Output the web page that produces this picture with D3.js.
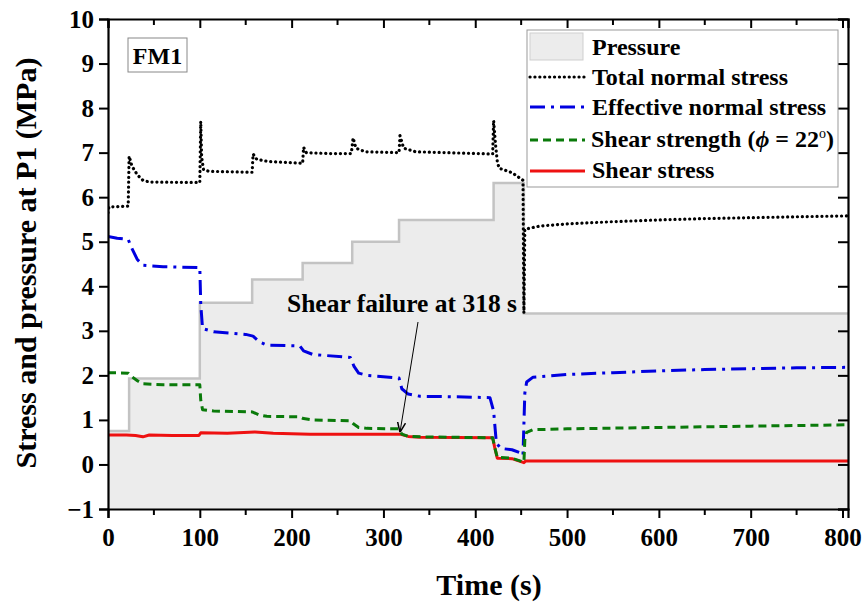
<!DOCTYPE html>
<html>
<head>
<meta charset="utf-8">
<script src="https://cdn.jsdelivr.net/npm/d3@7"></script>
<style>
  body { margin: 0; background: #fff; }
  svg text { font-family: "Liberation Serif", "Times New Roman", serif; font-weight: bold; fill: #000; }
</style>
</head>
<body>
<div id="chart"></div>
<script>
// step pressure at P1 (MPa), held until next step time
const pressureTimes  = [0, 23, 100, 157, 212, 266, 317, 420, 453, 806];
const pressureLevels = [0.75, 1.93, 3.63, 4.15, 4.52, 5.0, 5.49, 6.32, 3.39, 3.39];

// [time (s), MPa]
const totalNormal = [
  [0,5.65],[1,5.78],[22,5.8],[23,6.92],[26,6.7],[32,6.5],[38,6.38],[45,6.34],[100,6.33],
  [101,7.7],[102,6.9],[104,6.62],[110,6.58],[157,6.56],[158,6.97],[162,6.85],[175,6.8],
  [212,6.76],[213,7.12],[216,7.0],[240,6.98],[265,6.98],[267,7.33],[270,7.1],[280,7.02],
  [317,7.0],[318,7.38],[322,7.1],[335,7.02],[419,6.97],[420,7.72],[422,7.2],[424,6.8],
  [426,6.65],[440,6.55],[452,6.38],[453,3.4],[454,5.28],[470,5.35],[500,5.4],[550,5.45],
  [600,5.49],[650,5.52],[700,5.54],[750,5.56],[806,5.58]
];

const effectiveNormal = [
  [0,5.12],[10,5.08],[22,5.05],[26,4.85],[32,4.6],[38,4.47],[60,4.44],[100,4.42],[101,3.6],
  [103,3.05],[115,2.98],[150,2.92],[158,2.88],[165,2.75],[173,2.68],[209,2.66],[213,2.55],
  [223,2.47],[264,2.4],[268,2.2],[273,2.05],[282,2.0],[317,1.94],[320,1.7],[327,1.58],
  [340,1.53],[380,1.52],[416,1.5],[420,1.2],[423,0.48],[428,0.36],[440,0.33],[449,0.26],
  [452,0.2],[454,1.6],[456,1.85],[463,1.96],[500,2.02],[550,2.06],[600,2.1],[650,2.13],
  [700,2.15],[750,2.17],[806,2.18]
];

const shearStrength = [
  [0,2.06],[22,2.05],[26,1.97],[32,1.88],[38,1.81],[60,1.79],[100,1.79],[101,1.45],[103,1.23],
  [115,1.2],[157,1.18],[165,1.11],[173,1.08],[209,1.07],[213,1.03],[223,1.0],[264,0.98],
  [268,0.9],[273,0.83],[282,0.81],[317,0.8],[320,0.68],[327,0.63],[340,0.62],[419,0.6],
  [421,0.4],[424,0.16],[440,0.14],[453,0.05],[454,0.55],[456,0.72],[463,0.78],[500,0.8],
  [600,0.83],[700,0.86],[806,0.89]
];

const shearStress = [
  [0,0.66],[20,0.66],[30,0.65],[38,0.62],[45,0.66],[70,0.65],[99,0.65],[101,0.71],[130,0.7],
  [160,0.73],[180,0.7],[220,0.68],[300,0.68],[318,0.68],[327,0.63],[340,0.61],[419,0.6],
  [421,0.4],[424,0.14],[440,0.13],[453,0.04],[455,0.08],[550,0.08],[806,0.08]
];

const xTicks = [0, 100, 200, 300, 400, 500, 600, 700, 800];
const yTicks = [-1, 0, 1, 2, 3, 4, 5, 6, 7, 8, 9, 10];

const margin = {top: 19, left: 108, right: 17, bottom: 99},
    width = 865 - margin.left - margin.right,
    height = 608 - margin.top - margin.bottom;

const svg = d3.select('#chart').append('svg')
    .attr('width', 865).attr('height', 608);

const g = svg.append('g')
    .attr('transform', 'translate(' + margin.left + ',' + margin.top + ')');

const xScale = d3.scaleLinear().domain([0, 806]).range([0, width]);
const yScale = d3.scaleLinear().domain([-1, 10]).range([height, 0]);

g.append('clipPath').attr('id', 'plotClip')
  .append('rect').attr('width', width).attr('height', height);

const plot = g.append('g').attr('clip-path', 'url(#plotClip)');

// pressure area
const pressure = pressureTimes.map((t, i) => [t, pressureLevels[i]]);
plot.append('path')
    .datum(pressure)
    .attr('fill', '#ececec')
    .attr('d', d3.area().curve(d3.curveStepAfter)
        .x(d => xScale(d[0])).y0(height).y1(d => yScale(d[1])));
plot.append('path')
    .datum(pressure)
    .attr('fill', 'none')
    .attr('stroke', '#c3c3c3')
    .attr('stroke-width', 2.5)
    .attr('d', d3.line().curve(d3.curveStepAfter)
        .x(d => xScale(d[0])).y(d => yScale(d[1])));

const line = d3.line().x(d => xScale(d[0])).y(d => yScale(d[1]));

const series = [
  {data: totalNormal, color: '#000', width: 3.2, dash: '0.1 4.8', cap: 'round'},
  {data: effectiveNormal, color: '#0000e0', width: 3, dash: '15 6 3 6', cap: 'butt'},
  {data: shearStress, color: '#ee1111', width: 3, dash: null, cap: 'butt'},
  {data: shearStrength, color: '#0a7a0a', width: 3, dash: '8 5', cap: 'butt'}
];

series.forEach(s => {
  plot.append('path')
      .datum(s.data)
      .attr('fill', 'none')
      .attr('stroke', s.color)
      .attr('stroke-width', s.width)
      .attr('stroke-dasharray', s.dash)
      .attr('stroke-linecap', s.cap)
      .attr('stroke-linejoin', 'round')
      .attr('d', line);
});

// axes: outward on bottom/left, inward mirrors on top/right
const xMinor = d3.range(50, 806, 100);
const bottomAxis = g.append('g').attr('transform', 'translate(0,' + height + ')');
bottomAxis.call(d3.axisBottom(xScale).tickValues(xTicks).tickSize(9).tickPadding(6).tickFormat(d3.format('d')));
bottomAxis.append('g').selectAll('line').data(xMinor).enter().append('line')
    .attr('x1', d => xScale(d)).attr('x2', d => xScale(d)).attr('y2', 6).attr('stroke', '#000').attr('stroke-width', 2);

const leftAxis = g.append('g');
leftAxis.call(d3.axisLeft(yScale).tickValues(yTicks).tickSize(9).tickPadding(5).tickFormat(d3.format('d')));

const topAxis = g.append('g');
topAxis.call(d3.axisTop(xScale).tickValues(xTicks).tickSize(-9).tickFormat(''));
topAxis.append('g').selectAll('line').data(xMinor).enter().append('line')
    .attr('x1', d => xScale(d)).attr('x2', d => xScale(d)).attr('y2', 6).attr('stroke', '#000').attr('stroke-width', 2);

const rightAxis = g.append('g').attr('transform', 'translate(' + width + ',0)');
rightAxis.call(d3.axisRight(yScale).tickValues(yTicks).tickSize(-10).tickFormat(''));

g.selectAll('.domain').attr('stroke-width', 2.2);
g.selectAll('.tick line').attr('stroke-width', 2);
g.selectAll('.tick text').style('font-size', '25px').style('font-family', '"Liberation Serif", serif').style('font-weight', 'bold');
bottomAxis.selectAll('.tick text').attr('dy', '0.88em');

// axis labels
svg.append('text')
    .attr('x', 489).attr('y', 595)
    .attr('text-anchor', 'middle')
    .style('font-size', '30px')
    .text('Time (s)');

svg.append('text')
    .attr('transform', 'translate(36,263) rotate(-90)')
    .attr('text-anchor', 'middle')
    .style('font-size', '30px')
    .text('Stress and pressure at P1 (MPa)');

// FM1 box
svg.append('rect')
    .attr('x', 128).attr('y', 38).attr('width', 59).attr('height', 34)
    .attr('fill', '#fff').attr('stroke', '#888').attr('stroke-width', 1);
svg.append('text')
    .attr('x', 157.5).attr('y', 64)
    .attr('text-anchor', 'middle')
    .style('font-size', '24px')
    .text('FM1');

// annotation
svg.append('defs').append('marker')
    .attr('id', 'arrow').attr('viewBox', '0 0 10 10')
    .attr('refX', 10).attr('refY', 5)
    .attr('markerWidth', 10).attr('markerHeight', 10)
    .attr('markerUnits', 'userSpaceOnUse')
    .attr('orient', 'auto')
  .append('path').attr('d', 'M0,1 L10,5 L0,9').attr('fill', 'none').attr('stroke', '#000').attr('stroke-width', 1.5);

svg.append('line')
    .attr('x1', 418).attr('y1', 322)
    .attr('x2', margin.left + xScale(318)).attr('y2', margin.top + yScale(0.72))
    .attr('stroke', '#000').attr('stroke-width', 1)
    .attr('marker-end', 'url(#arrow)');
svg.append('text')
    .attr('x', 287).attr('y', 312)
    .style('font-size', '25.5px')
    .text('Shear failure at 318 s');

// legend
const legend = svg.append('g').attr('transform', 'translate(527,30)');
legend.append('rect')
    .attr('width', 311).attr('height', 157)
    .attr('fill', '#fff').attr('stroke', '#999').attr('stroke-width', 1);

legend.append('rect')
    .attr('x', 3).attr('y', 3).attr('width', 53).attr('height', 27)
    .attr('fill', '#ececec').attr('stroke', '#cfcfcf').attr('stroke-width', 1);

const legendLines = [
  {y: 47, s: series[0]},
  {y: 77, s: series[1]},
  {y: 110, s: series[3]},
  {y: 141, s: series[2]}
];
legendLines.forEach(l => {
  legend.append('line')
      .attr('x1', 3).attr('x2', 58).attr('y1', l.y).attr('y2', l.y)
      .attr('stroke', l.s.color).attr('stroke-width', l.s.width)
      .attr('stroke-dasharray', l.s.dash).attr('stroke-linecap', l.s.cap);
});

const legendLabels = ['Pressure', 'Total normal stress', 'Effective normal stress', null, 'Shear stress'];
const labelY = [25, 55, 85, 117, 148];
legendLabels.forEach((t, i) => {
  if (t === null) return;
  legend.append('text').attr('x', 65).attr('y', labelY[i]).style('font-size', '24px').text(t);
});
const ss = legend.append('text').attr('x', 64).attr('y', labelY[3]).style('font-size', '24px');
ss.append('tspan').text('Shear strength (');
ss.append('tspan').style('font-style', 'italic').text('\u03d5');
ss.append('tspan').text(' = 22');
ss.append('tspan').attr('dy', -9).style('font-size', '14px').style('font-weight', 'normal').text('o');
ss.append('tspan').attr('dy', 9).text(')');
</script>
</body>
</html>
